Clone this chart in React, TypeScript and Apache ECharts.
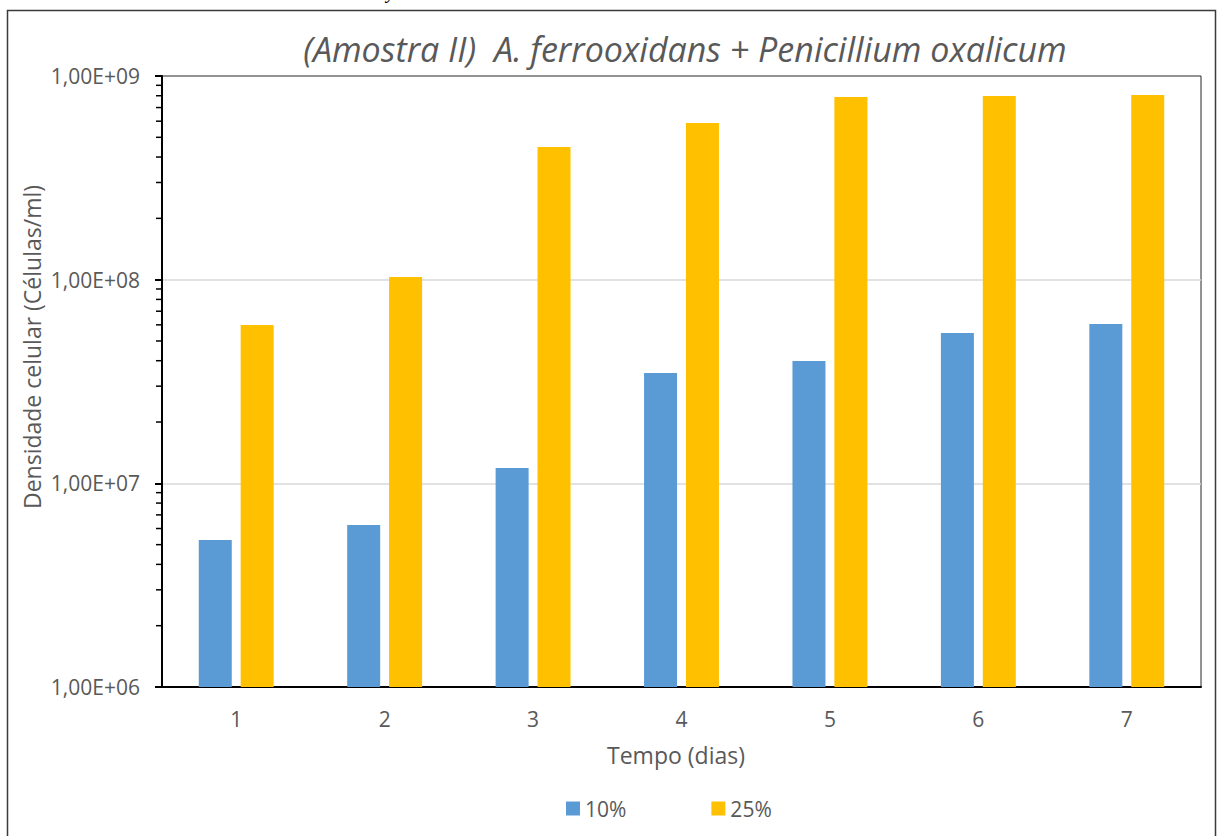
import React, { useEffect, useRef } from "react";
import * as echarts from "echarts";

const categories = ["1", "2", "3", "4", "5", "6", "7"];
const series10 = [5.27e6, 6.24e6, 1.19e7, 3.48e7, 3.99e7, 5.47e7, 6.06e7];
const series25 = [5.99e7, 1.03e8, 4.48e8, 5.88e8, 7.89e8, 7.97e8, 8.07e8];
const minorTickValues = [
  2e6, 3e6, 4e6, 5e6, 6e6, 7e6, 8e6, 9e6,
  2e7, 3e7, 4e7, 5e7, 6e7, 7e7, 8e7, 9e7,
  2e8, 3e8, 4e8, 5e8, 6e8, 7e8, 8e8, 9e8,
];
const yMin = 1e6;
const yMax = 1e9;
const titleText = "(Amostra II)  A. ferrooxidans + Penicillium oxalicum";
const xName = "Tempo (dias)";
const yName = "Densidade celular (Células/ml)";
const legendNames = ["10%", "25%"];
const cutText = "y";

const FONT = "'Open Sans', 'Noto Sans', sans-serif";
const GRAY = "#595959";

export default function App() {
  const ref = useRef<HTMLDivElement>(null);
  useEffect(() => {
    if (!ref.current) return;
    const chart = echarts.init(ref.current, null, { renderer: "svg" });
    const option: any = {
      animation: false,
      backgroundColor: "#ffffff",
      textStyle: { fontFamily: FONT, color: GRAY },
      grid: {
        left: 162,
        right: 17,
        top: 76,
        bottom: 149,
        show: true,
        borderColor: "#262626",
        borderWidth: 1,
        backgroundColor: "transparent",
      },
      legend: {
        data: legendNames,
        left: 566,
        top: 798,
        padding: 0,
        icon: "rect",
        itemWidth: 14,
        itemHeight: 14,
        itemGap: 85,
        textStyle: { fontFamily: FONT, fontSize: 21, color: GRAY },
      },
      xAxis: {
        type: "category",
        data: categories,
        axisLine: { lineStyle: { color: "#000", width: 2 } },
        axisTick: { inside: true, length: 7, lineStyle: { color: "#000", width: 1.5 } },
        axisLabel: { margin: 21, fontSize: 21, color: GRAY, fontFamily: FONT },
        splitLine: { show: false },
      },
      yAxis: {
        type: "log",
        logBase: 10,
        min: yMin,
        max: yMax,
        axisLine: { show: true, lineStyle: { color: "#000", width: 2 } },
        axisTick: { show: true, length: 7, lineStyle: { color: "#000", width: 2 } },
        axisLabel: {
          margin: 22,
          fontSize: 21,
          color: GRAY,
          fontFamily: FONT,
          formatter: (v: number) => {
            const e = Math.round(Math.log10(v));
            return "1,00E+" + String(e).padStart(2, "0");
          },
        },
        splitLine: {
          show: true,
          showMinLine: false,
          showMaxLine: false,
          lineStyle: { color: "#d9d9d9", width: 1.5 },
        },
      },
      series: [
        {
          name: legendNames[0],
          type: "bar",
          data: series10,
          barWidth: 33,
          barGap: "27%",
          itemStyle: { color: "#5B9BD5" },
        },
        {
          name: legendNames[1],
          type: "bar",
          data: series25,
          barWidth: 33,
          barGap: "27%",
          itemStyle: { color: "#FFC000" },
        },
        {
          name: "minorTicks",
          type: "custom",
          silent: true,
          data: minorTickValues.map((v) => [0, v]),
          renderItem: (params: any, api: any) => {
            const y = api.coord([0, api.value(1)])[1];
            const x0 = params.coordSys.x;
            return {
              type: "line",
              shape: { x1: x0 - 6, y1: y, x2: x0, y2: y },
              style: { stroke: "#000", lineWidth: 1.5 },
            };
          },
          z: 5,
        },
      ],
      graphic: [
        {
          type: "rect",
          shape: { x: 7.5, y: 10.5, width: 1208, height: 840 },
          style: { fill: "none", stroke: "#3a3a3a", lineWidth: 1.5 },
          silent: true,
          z: -1,
        },
        {
          type: "text",
          x: 391,
          y: -9,
          style: {
            text: cutText,
            font: "italic 20px 'Liberation Serif', serif",
            fill: "#000",
            align: "center",
            verticalAlign: "middle",
          },
        },
        {
          type: "text",
          x: 685,
          y: 49,
          style: {
            text: titleText,
            font: "italic 34px " + FONT,
            fill: GRAY,
            align: "center",
            verticalAlign: "middle",
          },
        },
        {
          type: "text",
          x: 676,
          y: 755,
          style: {
            text: xName,
            font: "23px " + FONT,
            fill: GRAY,
            align: "center",
            verticalAlign: "middle",
          },
        },
        {
          type: "text",
          x: 32,
          y: 347,
          rotation: Math.PI / 2,
          style: {
            text: yName,
            font: "23px " + FONT,
            fill: GRAY,
            align: "center",
            verticalAlign: "middle",
          },
        },
      ],
    };
    chart.setOption(option);
    return () => chart.dispose();
  }, []);
  return (
    <div
      ref={ref}
      style={{ position: "fixed", left: 0, top: 0, width: 1218, height: 836 }}
    />
  );
}
